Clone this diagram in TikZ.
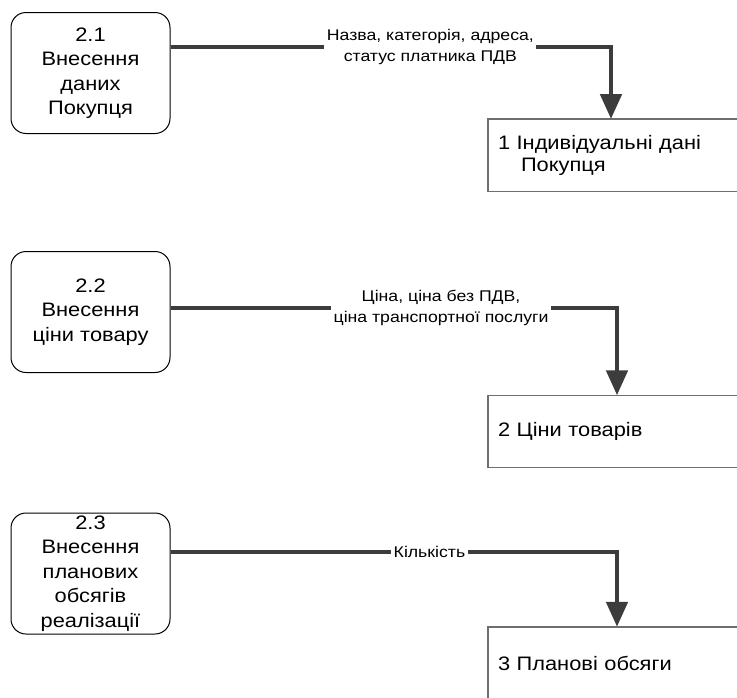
\documentclass[tikz,border=0pt]{standalone}
\usepackage{fontspec}
\setmainfont{Liberation Sans}
\newfontfamily\bxfont[FakeStretch=1.12]{Liberation Sans}
\newfontfamily\lbfont[FakeStretch=1.14]{Liberation Sans}
\usetikzlibrary{arrows.meta}
\definecolor{flowc}{HTML}{3C3C3C}
\definecolor{storec}{HTML}{6E6E6E}
\begin{document}
\begin{tikzpicture}[x=1pt,y=-1pt,
  procbox/.style={draw=black, line width=1pt, rounded corners=15pt, minimum width=159pt, minimum height=121pt, inner sep=0pt, align=center, font=\bxfont\fontsize{19.5}{24.5}\selectfont},
  storebox/.style={minimum width=249pt, minimum height=72pt, inner xsep=10pt, inner ysep=0pt, text width=229pt, align=left, font=\bxfont\fontsize{19.5}{22}\selectfont},
  storeline/.style={draw=storec, line width=1.4pt},
  flow/.style={draw=flowc, line width=4.8pt, -{Triangle[width=21pt,length=25pt]}, color=flowc},
  flowlab/.style={fill=white, text=black, inner xsep=2.5pt, inner ysep=1pt, align=center, font=\lbfont\fontsize{15.5}{21}\selectfont}]
\useasboundingbox (0,0) rectangle (737,697);

% processes
\node[procbox] (p1) at (90.5,73) {2.1\\Внесення\\даних\\Покупця};
\node[procbox] (p2) at (90.5,312) {2.2\\Внесення\\ціни товару};
\node[procbox] (p3) at (90.5,573.5) {2.3\\Внесення\\планових\\обсягів\\реалізації};

% data stores
\node[storebox] (s1) at (612.5,155.25) {1 Індивідуальні дані\\\hspace*{23pt}Покупця};
\node[storebox] (s2) at (612.5,431.5) {2 Ціни товарів};
\node[storebox] (s3) at (612.5,663) {3 Планові обсяги};
\draw[storeline] (s1.north east) -- (s1.north west) -- (s1.south west) -- (s1.south east);
\draw[storeline] (s2.north east) -- (s2.north west) -- (s2.south west) -- (s2.south east);
\draw[storeline] (s3.north east) -- (s3.north west) -- (s3.south west);

% flows
\coordinate (c1) at (611,47);
\coordinate (c2) at (617,308);
\coordinate (c3) at (617,552);
\draw[flow] (p1.east |- c1) -- node[pos=0.59, flowlab] {Назва, категорія, адреса,\\статус платника ПДВ} (c1) -- (c1 |- s1.north);
\draw[flow] (p2.east |- c2) -- node[pos=0.606, flowlab] {Ціна, ціна без ПДВ,\\ціна транспортної послуги} (c2) -- (c2 |- s2.north);
\draw[flow] (p3.east |- c3) -- node[pos=0.58, flowlab] {Кількість} (c3) -- (c3 |- s3.north);
\end{tikzpicture}
\end{document}
